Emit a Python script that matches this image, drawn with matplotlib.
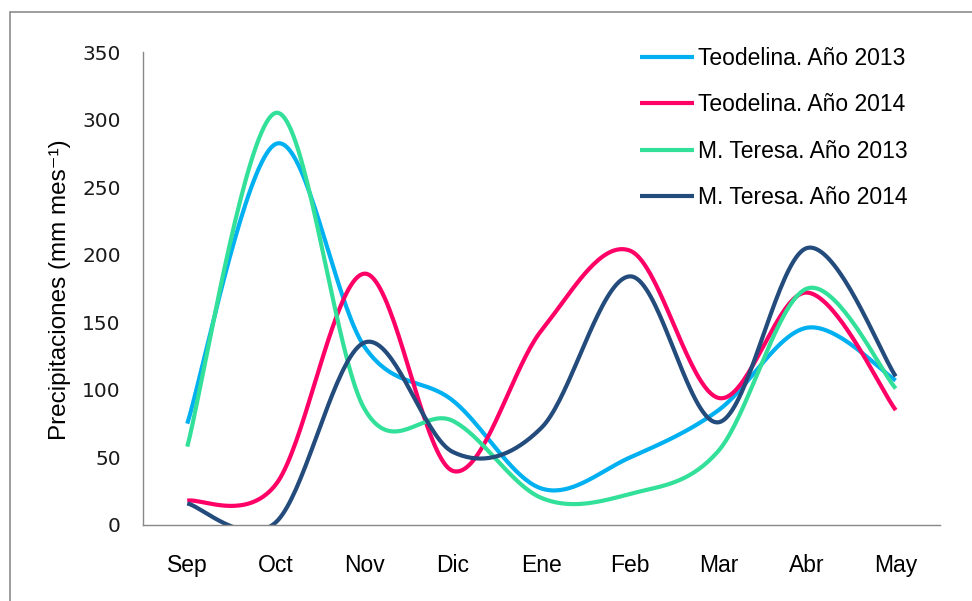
import numpy as np
import matplotlib
matplotlib.use("Agg")
import matplotlib.pyplot as plt

# data (mm per month)
months = ["Sep", "Oct", "Nov", "Dic", "Ene", "Feb", "Mar", "Abr", "May"]
teo_2013 = [75, 282, 132, 92, 27, 50, 85, 146, 107]
teo_2014 = [18, 30, 186, 40, 144, 203, 94, 172, 85]
mt_2013 = [58, 305, 86, 77, 20, 23, 55, 175, 101]
mt_2014 = [16, 2, 135, 54, 72, 184, 76, 205, 110]

labels = ["Teodelina. Año 2013", "Teodelina. Año 2014",
          "M. Teresa. Año 2013", "M. Teresa. Año 2014"]
colors = ["#00B0F0", "#FF0066", "#33E09A", "#234B7C"]


def smooth(y, n=40):
    # excel-like smoothed line (bezier with 1/6 neighbour tangents)
    y = np.asarray(y, dtype=float)
    x = np.arange(len(y), dtype=float)
    xs, ys = [], []
    t = np.linspace(0, 1, n)
    for i in range(len(y) - 1):
        i0 = max(i - 1, 0)
        i3 = min(i + 2, len(y) - 1)
        p0 = np.array([x[i], y[i]])
        p3 = np.array([x[i + 1], y[i + 1]])
        p1 = p0 + (np.array([x[i + 1], y[i + 1]]) - np.array([x[i0], y[i0]])) / 6
        p2 = p3 - (np.array([x[i3], y[i3]]) - np.array([x[i], y[i]])) / 6
        pts = ((1 - t) ** 3)[:, None] * p0 + (3 * (1 - t) ** 2 * t)[:, None] * p1 \
            + (3 * (1 - t) * t ** 2)[:, None] * p2 + (t ** 3)[:, None] * p3
        xs.extend(pts[:, 0])
        ys.extend(pts[:, 1])
    return np.array(xs), np.array(ys)


plt.rcParams['font.family'] = ['Liberation Sans', 'DejaVu Sans']

fig = plt.figure(figsize=(9.72, 6.01), dpi=100)
ax = fig.add_axes([143 / 972, 1 - 525 / 601, (940 - 143) / 972, (525 - 52) / 601])

for vals, lab, col in zip([teo_2013, teo_2014, mt_2013, mt_2014], labels, colors):
    sx, sy = smooth(vals)
    ax.plot(sx, sy, color=col, lw=3, label=lab, solid_capstyle='butt')

ax.set_xlim(-0.5, len(months) - 0.5)
ax.set_ylim(0, 350)
ax.set_xticks(range(len(months)))
ax.set_xticklabels(months, fontsize=16.5)
ax.set_yticks(range(0, 351, 50))
for lbl in ax.get_yticklabels():
    lbl.set_family('DejaVu Sans')
    lbl.set_color('#1a1a1a')
ax.tick_params(axis='y', labelsize=14.5, length=0, pad=16)
ax.tick_params(axis='x', length=0, pad=21)
for s in ['top', 'right']:
    ax.spines[s].set_visible(False)
for s in ['left', 'bottom']:
    ax.spines[s].set_color('#888888')
    ax.spines[s].set_linewidth(1)

ax.set_ylabel("Precipitaciones (mm mes⁻¹)", fontsize=17.5)
ax.yaxis.set_label_coords(-0.09, 0.497)

leg = ax.legend(loc='upper left', bbox_to_anchor=(0.598, 1.054), frameon=False,
                fontsize=16.5, handlelength=2.35, handletextpad=0.15,
                labelspacing=1.02)

# outer chart frame (partly cut by the image edges)
fig.add_artist(plt.Rectangle((10 / 972, -0.1), 1.2, (601 - 12) / 601 + 0.1,
                             transform=fig.transFigure, fill=False,
                             ec='#8C8C8C', lw=1.2))

fig.savefig("out.png", dpi=100)
